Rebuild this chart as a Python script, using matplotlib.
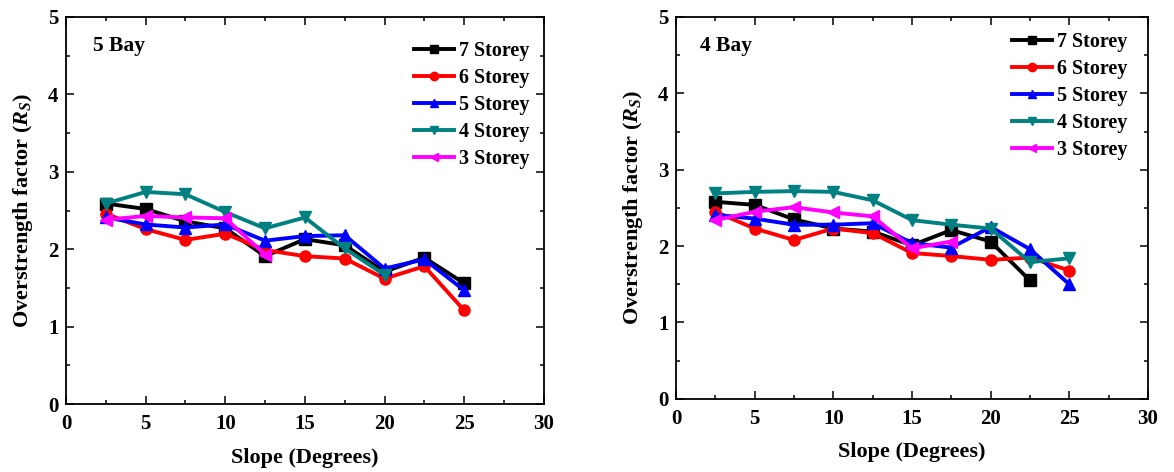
import matplotlib
matplotlib.use("Agg")
import matplotlib.pyplot as plt
from matplotlib.ticker import MultipleLocator

plt.rcParams['font.family'] = ['Liberation Serif', 'DejaVu Serif']
plt.rcParams['font.weight'] = 'bold'
plt.rcParams['mathtext.fontset'] = 'custom'
plt.rcParams['mathtext.it'] = 'Liberation Serif:italic:bold'
plt.rcParams['mathtext.rm'] = 'Liberation Serif:bold'

slopes = [2.5, 5, 7.5, 10, 12.5, 15, 17.5, 20, 22.5, 25]
series_names = ["7 Storey", "6 Storey", "5 Storey", "4 Storey", "3 Storey"]

# 5 Bay
bay5_7 = [2.59, 2.52, 2.36, 2.27, 1.91, 2.13, 2.05, 1.71, 1.89, 1.56]
bay5_6 = [2.46, 2.26, 2.12, 2.20, 1.99, 1.91, 1.88, 1.62, 1.78, 1.21]
bay5_5 = [2.41, 2.32, 2.28, 2.32, 2.11, 2.17, 2.18, 1.75, 1.87, 1.47]
bay5_4 = [2.59, 2.74, 2.71, 2.48, 2.27, 2.41, 2.01, 1.67]
bay5_3 = [2.38, 2.43, 2.41, 2.40, 1.93]

# 4 Bay
bay4_7 = [2.58, 2.54, 2.35, 2.23, 2.19, 2.01, 2.21, 2.06, 1.55]
bay4_6 = [2.45, 2.23, 2.08, 2.23, 2.17, 1.91, 1.87, 1.82, 1.85, 1.68]
bay4_5 = [2.41, 2.36, 2.28, 2.28, 2.30, 2.04, 1.98, 2.25, 1.96, 1.50]
bay4_4 = [2.69, 2.71, 2.72, 2.71, 2.60, 2.34, 2.28, 2.23, 1.79, 1.84]
bay4_3 = [2.34, 2.45, 2.51, 2.44, 2.39, 1.97, 2.06]

colors = ['black', '#ff0000', '#0000ff', '#008080', '#ff00ff']
markers = ['s', 'o', '^', 'v', '<']

fig = plt.figure(figsize=(11.74, 4.72), dpi=100)
ax1 = fig.add_axes([0.0562, 0.144, 0.407, 0.820])
ax2 = fig.add_axes([0.5758, 0.155, 0.402, 0.809])

panels = [
    (ax1, "5 Bay", [bay5_7, bay5_6, bay5_5, bay5_4, bay5_3], (0.728, 0.938), (0.056, 0.925)),
    (ax2, "4 Bay", [bay4_7, bay4_6, bay4_5, bay4_4, bay4_3], (0.712, 0.961), (0.051, 0.925)),
]

for ax, title, data, lpos, tpos in panels:
    for name, vals, c, m in zip(series_names, data, colors, markers):
        ax.plot(slopes[:len(vals)], vals, color=c, marker=m, lw=2.8,
                markersize=8, label=name)
    ax.set_xlim(0, 30)
    ax.set_ylim(0, 5)
    ax.xaxis.set_major_locator(MultipleLocator(5))
    ax.xaxis.set_minor_locator(MultipleLocator(2.5))
    ax.yaxis.set_major_locator(MultipleLocator(1))
    ax.yaxis.set_minor_locator(MultipleLocator(0.5))
    ax.tick_params(which='both', direction='in', top=True, right=True,
                   labelsize=15, width=1.1)
    ax.tick_params(which='major', length=6)
    ax.tick_params(which='minor', length=3)
    ax.tick_params(axis='x', which='both', pad=7)
    ax.tick_params(axis='y', which='both', pad=5.5)
    for lab in ax.get_xticklabels() + ax.get_yticklabels():
        lab.set_fontweight('bold')
    for sp in ax.spines.values():
        sp.set_linewidth(1.3)
    ax.set_xlabel("Slope (Degrees)", fontsize=16, fontweight='bold', labelpad=10)
    ax.set_ylabel(r"Overstrength factor ($\mathit{R_S}$)", fontsize=16,
                  fontweight='bold', labelpad=9)
    ax.text(tpos[0], tpos[1], title, transform=ax.transAxes, fontsize=15.5,
            fontweight='bold', va='center', ha='left')
    ax.legend(loc='upper left', bbox_to_anchor=lpos, frameon=False,
              prop={'weight': 'bold', 'size': 14.5}, handlelength=2.0,
              labelspacing=0.35, handletextpad=0.25, borderaxespad=0,
              borderpad=0, markerscale=0.75)

fig.savefig("out.png", dpi=100)
